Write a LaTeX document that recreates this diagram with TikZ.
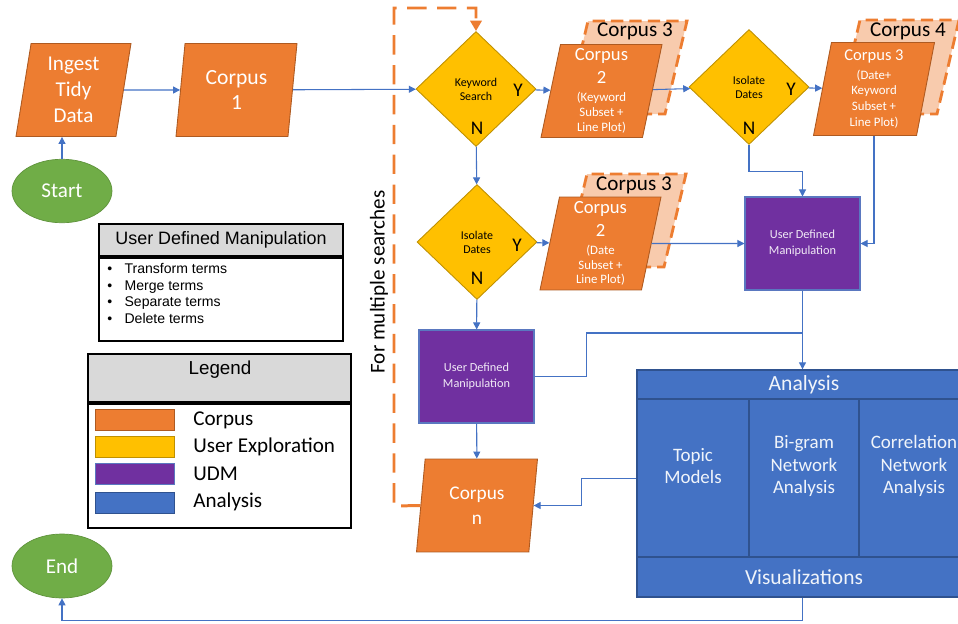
\documentclass[tikz,border=0pt]{standalone}
\usepackage{fontspec}
\setmainfont{Carlito}
\newfontfamily\arialfont{Liberation Sans}
\usetikzlibrary{arrows.meta,shapes.geometric,calc}

\definecolor{corpusorange}{HTML}{ED7D31}
\definecolor{corpusedge}{HTML}{AE5A21}
\definecolor{explyellow}{HTML}{FFC000}
\definecolor{expledge}{HTML}{BF9000}
\definecolor{udmpurple}{HTML}{7030A0}
\definecolor{udmedge}{HTML}{5A78C0}
\definecolor{anablue}{HTML}{4472C4}
\definecolor{anaedge}{HTML}{2F528F}
\definecolor{termgreen}{HTML}{70AD47}
\definecolor{shadowpeach}{HTML}{F8CBAD}
\definecolor{linkblue}{HTML}{4472C4}
\definecolor{hdrgray}{HTML}{D9D9D9}

\newcommand{\csmall}{\fontsize{7.3}{8.5}\selectfont}

\begin{document}
\begin{tikzpicture}[x=0.02cm,y=-0.02cm,
  corpus/.style={trapezium, trapezium left angle=77, trapezium right angle=103,
    trapezium stretches body, minimum width=2.42cm, minimum height=1.86cm,
    inner sep=0pt, fill=corpusorange, draw=corpusedge, line width=0.5pt,
    text=white, align=center, font=\fontsize{12.3}{14.3}\selectfont},
  corpusback/.style={fill=shadowpeach, draw=corpusorange, line width=1.6pt,
    dash pattern=on 7pt off 3.5pt},
  backtag/.style={font=\fontsize{12}{14}\selectfont, text=black},
  explore/.style={diamond, minimum width=2.4cm, minimum height=2.3cm, inner sep=0pt,
    fill=explyellow, draw=expledge, line width=0.5pt, align=center,
    font=\fontsize{6.8}{8}\selectfont},
  yesno/.style={font=\fontsize{11}{13}\selectfont, text=black},
  udm/.style={rectangle, minimum width=2.3cm, minimum height=1.86cm, fill=udmpurple,
    draw=udmedge, line width=0.6pt, text=white!90!udmpurple, align=center,
    font=\fontsize{7}{9}\selectfont},
  terminal/.style={ellipse, minimum width=2cm, minimum height=1.27cm, fill=termgreen,
    draw=termgreen!85!black, line width=0.4pt, text=white, font=\fontsize{12}{14}\selectfont},
  anatext/.style={text=white!92!anablue, align=center},
  conn/.style={draw=linkblue, line width=0.6pt, -{Triangle[length=4pt,width=4pt]}},
  link/.style={draw=linkblue, line width=0.6pt},
  looppath/.style={draw=corpusorange, line width=1.7pt, dash pattern=on 11pt off 6pt,
    -{Triangle[length=6pt,width=6.5pt]}},
  hdr/.style={rectangle, fill=hdrgray, draw=black, line width=1.1pt, inner sep=0pt},
  boxbody/.style={rectangle, fill=white, draw=black, line width=1.1pt, inner sep=0pt},
  swatch/.style={rectangle, minimum width=1.58cm, minimum height=0.42cm, inner sep=0pt, line width=0.5pt},
  legtext/.style={anchor=west, font=\fontsize{12}{14}\selectfont, inner sep=0pt}
]

\clip (0,0) rectangle (958,623);

% Start, ingest and first corpus
\node[terminal] (start) at (62,191) {Start};
\node[corpus, minimum width=2.3cm, font=\fontsize{12}{14.7}\selectfont] (ingest) at (73.5,90) {Ingest\\Tidy\\Data};
\node[corpus] (corpus1) at (236.5,90) {Corpus\\1};

% Keyword search
\node[explore] (kwsearch) at (476,89) {Keyword\\Search};
\node[yesno] (kwY) at (518,90) {Y};
\node[yesno] (kwN) at (477,128) {N};

% Corpus 2 after keyword search (Corpus 3 behind)
\draw[corpusback] (566,114) -- (665,114) -- (687,21) -- (588,21) -- cycle;
\node[backtag] (kwtag) at (635,31) {Corpus 3};
\node[corpus, font=\fontsize{10.6}{13}\selectfont] (kwcorpus) at (601.5,91)
  {Corpus\\2\\[-2.8pt]{\csmall (Keyword}\\[-4.5pt]{\csmall Subset +}\\[-4.5pt]{\csmall Line Plot)}};

% Isolate dates after keyword corpus
\node[explore] (isoA) at (749,87) {Isolate\\Dates};
\node[yesno] (isoAY) at (791,89) {Y};
\node[yesno] (isoAN) at (749,128) {N};

% Corpus 3 (Corpus 4 behind)
\draw[corpusback] (838,114) -- (937,114) -- (959,20) -- (860,20) -- cycle;
\node[backtag] (dktag) at (908,31) {Corpus 4};
\node[corpus, font=\fontsize{9.4}{10.4}\selectfont] (dkcorpus) at (874,89)
  {Corpus 3\\{\csmall (Date+}\\[-1.5pt]{\csmall Keyword}\\[-1.5pt]{\csmall Subset +}\\[-1.5pt]{\csmall Line Plot)}};

% Isolate dates without keyword
\node[explore] (isoB) at (477,242) {Isolate\\Dates};
\node[yesno] (isoBY) at (517,245) {Y};
\node[yesno] (isoBN) at (477,278) {N};

% Corpus 2 after dates (Corpus 3 behind)
\draw[corpusback] (565,267) -- (664,267) -- (686,174) -- (587,174) -- cycle;
\node[backtag] (dttag) at (634,185) {Corpus 3};
\node[corpus, font=\fontsize{10.6}{13}\selectfont] (dtcorpus) at (600.5,243.5)
  {Corpus\\2\\[-2.8pt]{\csmall (Date}\\[-4.5pt]{\csmall Subset +}\\[-4.5pt]{\csmall Line Plot)}};

% User defined manipulation boxes
\node[udm] (udmA) at (802.5,243.5) {User Defined\\Manipulation};
\node[udm] (udmB) at (476.5,376.5) {User Defined\\Manipulation};

% Corpus n
\node[corpus, font=\fontsize{11}{14.2}\selectfont] (cn) at (477,505.5) {Corpus\\n};

% Analysis block
\node[rectangle, minimum width=6.62cm, minimum height=4.54cm, fill=anablue, draw=anaedge,
  line width=0.8pt, inner sep=0pt] (analysis) at (802.5,483.5) {};
\draw[anaedge, line width=0.8pt] (637,399) -- (968,399);
\draw[anaedge, line width=0.8pt] (637,557) -- (968,557);
\draw[anaedge, line width=0.8pt] (749,399) -- (749,557);
\draw[anaedge, line width=0.8pt] (859,399) -- (859,557);
\node[anatext, font=\fontsize{12.3}{14}\selectfont] (anahead) at (804,385) {Analysis};
\node[anatext, font=\fontsize{10.8}{13}\selectfont] (topic) at (693,466) {Topic\\Models};
\node[anatext, font=\fontsize{10.8}{13}\selectfont] (bigram) at (804,466) {Bi-gram\\Network\\Analysis};
\node[anatext, font=\fontsize{10.8}{13}\selectfont] (correl) at (914,466) {Correlation\\Network\\Analysis};
\node[anatext, font=\fontsize{12.2}{14}\selectfont] (visual) at (804,577) {Visualizations};

% End
\node[terminal, minimum height=1.28cm] (endnode) at (62,566) {End};

% Connectors
\draw[conn] (start.north) -- (start.north |- ingest.south);
\draw[conn] (ingest) -- (corpus1);
\draw[conn] (corpus1) -- (kwsearch);
\draw[conn] (kwsearch) -- (kwcorpus);
\draw[conn] (kwcorpus) -- (isoA);
\draw[conn] (isoA) -- (dkcorpus);
\draw[conn] (isoA.south) -- ++(0,27) -| (udmA.north);
\draw[conn] (dkcorpus.south) |- (udmA.east);
\draw[conn] (kwsearch) -- (isoB);
\draw[conn] (isoB) -- (dtcorpus);
\draw[conn] (dtcorpus) -- (udmA);
\draw[conn] (isoB) -- (udmB);
\draw[conn] (udmB) -- (cn);
\coordinate (udmjoin) at (802.5,333);
\draw[link] (udmB.east) -- ++(52,0) |- (udmjoin);
\draw[conn] (udmA.south) -- (analysis.north);
\draw[conn] ($(analysis.west)+(0,-5)$) -- ++(-55,0) |- (cn.east);
\draw[conn] (analysis.south) -- ++(0,23) -| (endnode.south);

% Loop for multiple searches
\draw[looppath] (cn.west) -- (394,506) -- (394,8) -| (kwsearch.north);
\node[rotate=90, font=\fontsize{12}{14}\selectfont] (loopnote) at (379,282) {For multiple searches};

% UDM key
\node[hdr, minimum width=4.88cm, minimum height=0.64cm, font=\arialfont\fontsize{10.2}{12}\selectfont]
  (udmhead) at (221,240) {User Defined Manipulation};
\node[boxbody, minimum width=4.88cm, minimum height=1.66cm, anchor=north] (udmbody) at (udmhead.south) {};
\node[anchor=north west, inner sep=0pt, font=\arialfont\fontsize{8}{9.6}\selectfont] (udmitems) at (107,261)
  {\begin{tabular}{@{}l@{\hspace{7pt}}l@{}}
   \textbullet & Transform terms\\
   \textbullet & Merge terms\\
   \textbullet & Separate terms\\
   \textbullet & Delete terms
   \end{tabular}};

% Legend
\node[hdr, minimum width=5.26cm, minimum height=0.96cm] (leghead) at (219.5,378) {};
\node[boxbody, minimum width=5.26cm, minimum height=2.48cm, anchor=north] (legbody) at (leghead.south) {};
\node[font=\arialfont\fontsize{10.7}{12}\selectfont] (legtitle) at (220,370) {Legend};
\node[swatch, fill=corpusorange, draw=corpusedge] (swcorpus) at (134.5,419.5) {};
\node[swatch, fill=explyellow, draw=expledge] (swexpl) at (134.5,446.5) {};
\node[swatch, fill=udmpurple, draw=udmedge] (swudm) at (134.5,473.5) {};
\node[swatch, fill=anablue, draw=anaedge] (swana) at (134.5,502.5) {};
\node[legtext] (lbcorpus) at (193,420) {Corpus};
\node[legtext] (lbexpl) at (193,447) {User Exploration};
\node[legtext] (lbudm) at (193,474) {UDM};
\node[legtext] (lbana) at (193,502) {Analysis};

\end{tikzpicture}
\end{document}
